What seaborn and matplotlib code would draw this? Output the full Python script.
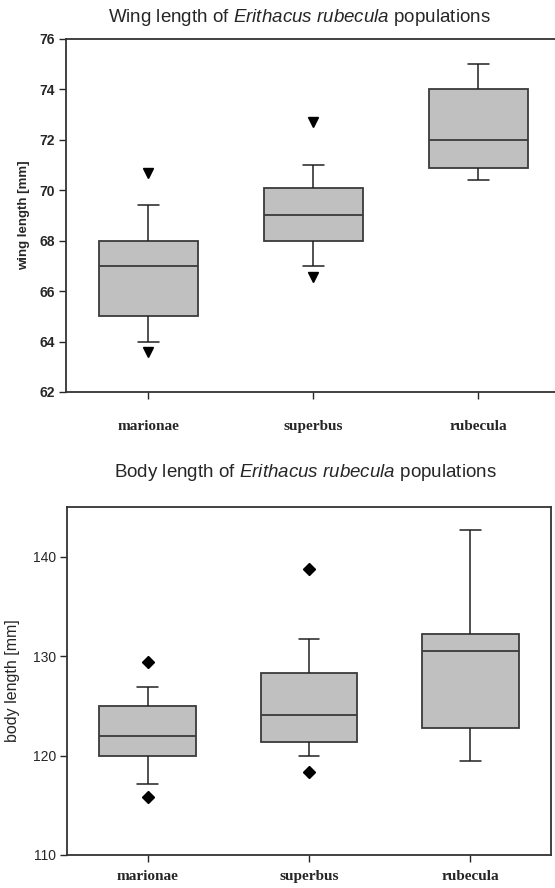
import pandas as pd
import seaborn as sns
import matplotlib.pyplot as plt

# populations and the raw values (11 per group, whiskers = 10th/90th percentile)
categories = ["marionae", "superbus", "rubecula"]

wing_marionae = [63.6, 64.0, 65.0, 65.0, 66.0, 67.0, 67.5, 68.0, 68.0, 69.4, 70.7]
wing_superbus = [66.55, 67.0, 68.0, 68.0, 68.5, 69.0, 69.5, 70.1, 70.1, 71.0, 72.7]
wing_rubecula = [70.4, 70.4, 70.9, 70.9, 71.5, 72.0, 73.0, 74.0, 74.0, 75.0, 75.0]

body_marionae = [115.8, 117.1, 120.0, 120.0, 121.0, 122.0, 123.5, 125.0, 125.0, 126.9, 129.4]
body_superbus = [118.3, 120.0, 121.4, 121.4, 123.0, 124.1, 126.0, 128.3, 128.3, 131.7, 138.8]
body_rubecula = [119.5, 119.5, 122.8, 122.8, 127.0, 130.5, 131.5, 132.2, 132.2, 142.7, 142.7]

wing_df = pd.DataFrame({
    "population": ["marionae"] * 11 + ["superbus"] * 11 + ["rubecula"] * 11,
    "value": wing_marionae + wing_superbus + wing_rubecula,
})
body_df = pd.DataFrame({
    "population": ["marionae"] * 11 + ["superbus"] * 11 + ["rubecula"] * 11,
    "value": body_marionae + body_superbus + body_rubecula,
})

sns.set_style("ticks")
plt.rcParams["font.family"] = ["Liberation Sans", "DejaVu Sans"]
plt.rcParams["mathtext.fontset"] = "custom"
plt.rcParams["mathtext.rm"] = "Liberation Sans"
plt.rcParams["mathtext.it"] = "Liberation Sans:italic"

fig = plt.figure(figsize=(5.55, 8.88), dpi=100)
ax1 = fig.add_axes([66 / 555, 1 - 392 / 888, (561 - 66) / 555, (392 - 39) / 888])
ax2 = fig.add_axes([67 / 555, 1 - 855 / 888, (551 - 67) / 555, (855 - 507) / 888])

box_kws = dict(
    order=categories,
    whis=(10, 90),
    width=0.6,
    color="#c0c0c0",
    saturation=1,
    linecolor="#3a3a3a",
    linewidth=1.3,
    capwidths=0.13,
    whiskerprops=dict(color="#202020", linewidth=1.1),
    capprops=dict(color="#202020", linewidth=1.1),
    medianprops=dict(color="#3a3a3a", linewidth=1.3),
)

# Wing length
sns.boxplot(data=wing_df, x="population", y="value", ax=ax1, fliersize=6.5,
            flierprops=dict(marker="v", markerfacecolor="black",
                            markeredgecolor="black"),
            **box_kws)
ax1.set_ylim(62, 76)
ax1.set_yticks([62, 64, 66, 68, 70, 72, 74, 76])
ax1.set_xlim(-0.5, 2.5)
ax1.set_xlabel("")
ax1.set_ylabel("wing length [mm]", fontsize=9.5, fontweight="bold", labelpad=7)
ax1.spines["right"].set_visible(False)
for s in ["left", "top", "bottom"]:
    ax1.spines[s].set_linewidth(1.3)
    ax1.spines[s].set_color("#333333")
ax1.tick_params(axis="y", length=5, width=1, pad=3, labelsize=10)
ax1.tick_params(axis="x", length=5, width=1, pad=15)
for lab in ax1.get_yticklabels():
    lab.set_fontweight("bold")
for lab in ax1.get_xticklabels():
    lab.set_fontfamily(["Liberation Serif", "DejaVu Serif"])
    lab.set_fontsize(11)
    lab.set_fontweight("bold")

# Body length
sns.boxplot(data=body_df, x="population", y="value", ax=ax2, fliersize=6,
            flierprops=dict(marker="D", markerfacecolor="black",
                            markeredgecolor="black"),
            **box_kws)
ax2.set_ylim(110, 145)
ax2.set_yticks([110, 120, 130, 140])
ax2.set_xlim(-0.5, 2.5)
ax2.set_xlabel("")
ax2.set_ylabel("body length [mm]", fontsize=11.5, labelpad=9)
for s in ["left", "top", "bottom", "right"]:
    ax2.spines[s].set_visible(True)
    ax2.spines[s].set_linewidth(1.3)
    ax2.spines[s].set_color("#333333")
ax2.tick_params(axis="y", length=5, width=1, pad=3, labelsize=10)
ax2.tick_params(axis="x", length=5, width=1, pad=6)
for lab in ax2.get_xticklabels():
    lab.set_fontfamily(["Liberation Serif", "DejaVu Serif"])
    lab.set_fontsize(11)
    lab.set_fontweight("bold")

fig.text(0.54, 1 - 18 / 888,
         r"Wing length of $\it{Erithacus\ rubecula}$ populations",
         ha="center", va="center", fontsize=13.5)
fig.text(0.55, 1 - 472 / 888,
         r"Body length of $\it{Erithacus\ rubecula}$ populations",
         ha="center", va="center", fontsize=13.5)

fig.savefig("out.png", dpi=100)
